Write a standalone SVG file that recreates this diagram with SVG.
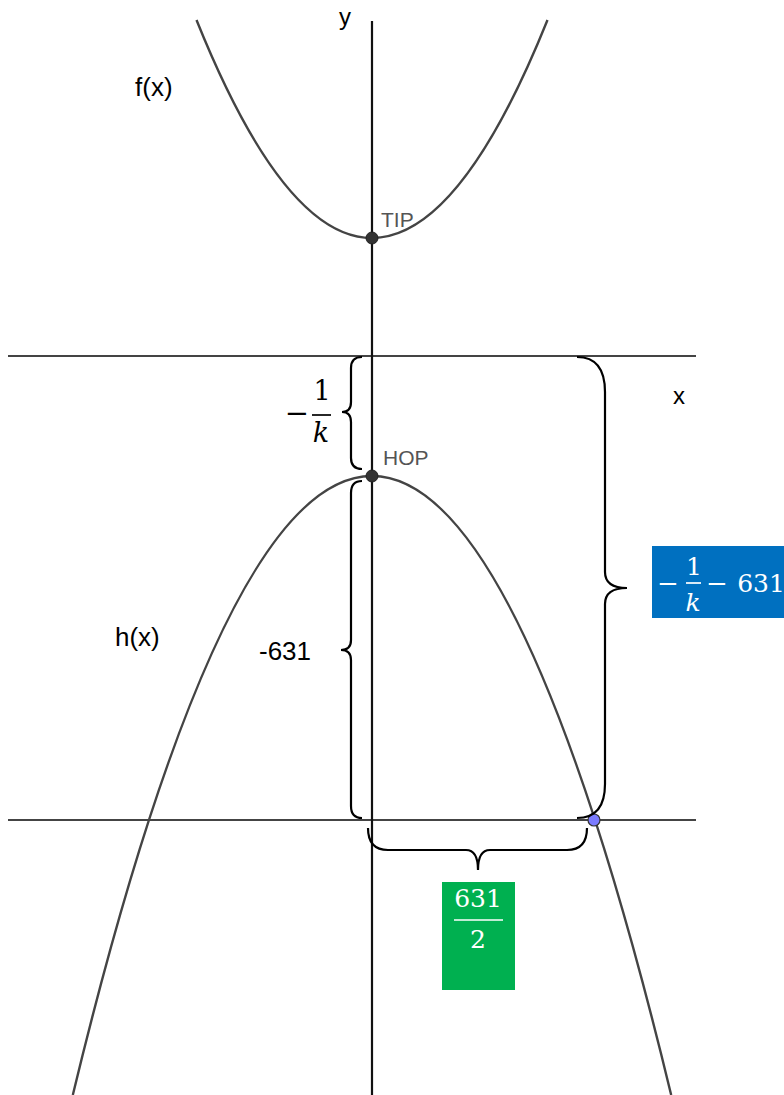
<svg xmlns="http://www.w3.org/2000/svg" width="784" height="1095" viewBox="0 0 784 1095">
<style>
.curve{fill:none;stroke:#444;stroke-width:2.4}
.hline{stroke:#444;stroke-width:2.2}
.axis{stroke:#111;stroke-width:2.2}
.brace{fill:none;stroke:#000;stroke-width:2.2}
.lbl{font-family:"Liberation Sans",Arial,sans-serif;fill:#000}
.pt{font-family:"Liberation Sans",Arial,sans-serif;fill:#555;font-size:21px}
.math{font-family:"DejaVu Serif","Liberation Serif",serif;text-anchor:middle}
.it{font-style:italic}
</style>
<rect width="784" height="1095" fill="#fff"/>
<g id="axes">
<line class="hline" x1="8" y1="356" x2="696" y2="356"/>
<line class="hline" x1="8" y1="820" x2="696" y2="820"/>
<line class="axis" x1="372" y1="21" x2="372" y2="1095"/>
<text class="lbl" x="339" y="25" font-size="24">y</text>
<text class="lbl" x="673" y="404" font-size="24">x</text>
</g>
<g id="f">
<path class="curve" d="M196.5,20 Q372,456 547.5,20"/>
<text class="lbl" x="135" y="96" font-size="26">f(x)</text>
</g>
<g id="h">
<path class="curve" d="M72.8,1095 Q372,-143 671.2,1095"/>
<text class="lbl" x="115" y="646" font-size="26">h(x)</text>
</g>
<g id="tip">
<circle cx="372" cy="238" r="6" fill="#333" stroke="#222" stroke-width="1"/>
<text class="pt" x="381" y="227">TIP</text>
</g>
<g id="hop">
<circle cx="372" cy="476" r="6" fill="#333" stroke="#222" stroke-width="1"/>
<text class="pt" x="383" y="465" font-size="22">HOP</text>
</g>
<g id="intersection">
<circle cx="594" cy="820" r="6" fill="#7b7bff" stroke="#333" stroke-width="1.2"/>
</g>
<g id="braces">
<path class="brace" d="M362,357 Q351,357 351,368 L351,402 Q351,412 342,412 Q351,412 351,422 L351,458 Q351,469 362,469"/>
<path class="brace" d="M362,481 Q351,481 351,493 L351,640 Q351,650 341,650 Q351,650 351,660 L351,806 Q351,818 362,818"/>
<path class="brace" d="M577,357 Q605,357 605,392 L605,572 Q605,588 627,588 Q605,588 605,604 L605,784 Q605,818 577,818"/>
<path class="brace" d="M368,828 Q368,850 388,850 L466,850 Q478,850 478,870 Q478,850 490,850 L567,850 Q587,850 587,828"/>
</g>
<g id="label-1k">
<text class="math" x="297" y="423" font-size="29">−</text>
<text class="math" x="322" y="400" font-size="27">1</text>
<line x1="312" y1="415" x2="331" y2="415" stroke="#000" stroke-width="1.7"/>
<text class="math it" x="321" y="442" font-size="27">k</text>
</g>
<g id="label-631">
<text class="lbl" x="259" y="660" font-size="26">-631</text>
</g>
<g id="label-blue">
<rect x="652" y="546" width="132" height="72" fill="#0070C0"/>
<text class="math" x="668" y="592" font-size="26" fill="#fff">−</text>
<text class="math" x="694" y="575" font-size="25" fill="#fff">1</text>
<line x1="686" y1="583" x2="701" y2="583" stroke="#fff" stroke-width="1.7"/>
<text class="math it" x="693" y="611" font-size="25" fill="#fff">k</text>
<text class="math" x="717" y="592" font-size="26" fill="#fff">−</text>
<text class="math" x="761" y="592" font-size="25" fill="#fff">631</text>
</g>
<g id="label-green">
<rect x="442" y="882" width="73" height="108" fill="#00B050"/>
<text class="math" x="478" y="907" font-size="25" fill="#fff">631</text>
<line x1="454" y1="920" x2="503" y2="920" stroke="#fff" stroke-width="1.7"/>
<text class="math" x="478" y="948" font-size="25" fill="#fff">2</text>
</g>
</svg>
